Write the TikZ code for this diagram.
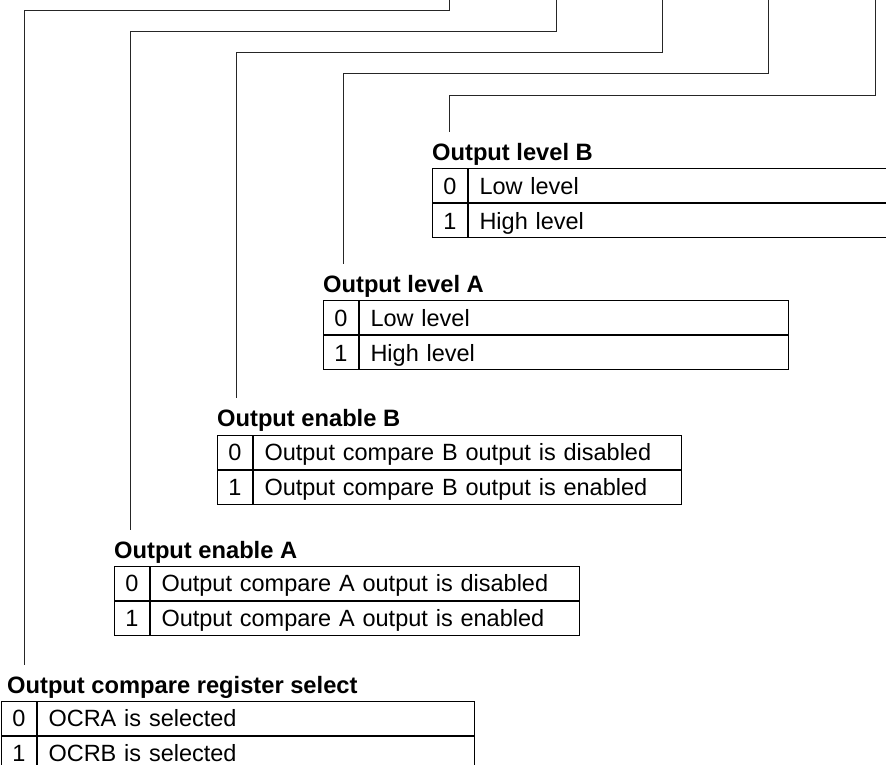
\documentclass[tikz,border=0pt]{standalone}
\usepackage{fontspec}
\setmainfont{Liberation Sans}
\usetikzlibrary{positioning}

\tikzset{
  conn/.style={draw=black!85,line width=1pt,shorten >=11pt},
  numcell/.style={draw,line width=1pt,minimum width=35pt,minimum height=34pt,inner sep=0pt,text height=16.8pt,text depth=0pt,font=\fontsize{23.5}{28}\selectfont},
  txtcell/.style={draw,line width=1pt,minimum height=34pt,inner xsep=11pt,inner ysep=0pt,align=left,text height=16.8pt,text depth=0pt,font=\fontsize{23.5}{28}\selectfont},
  ttl/.style={inner sep=0pt,font=\fontsize{23.7}{28}\selectfont\bfseries},
}

\begin{document}
\begin{tikzpicture}[x=1pt,y=-1pt]
\clip (0,0) rectangle (886,765);

% Output compare register select
\node[numcell,anchor=north west] (rs0) at (1,701) {0};
\node[txtcell,text width=415pt,right=0pt of rs0] (rst0) {OCRA is selected};
\node[numcell,below=0pt of rs0] (rs1) {1};
\node[txtcell,text width=415pt,right=0pt of rs1] (rst1) {OCRB is selected};
\node[ttl,above=8pt of rs0.north west,anchor=base west,xshift=6pt] (rsttl) {Output compare register select};

% Output enable A
\node[numcell,anchor=north west] (ea0) at (114,566) {0};
\node[txtcell,text width=407pt,right=0pt of ea0] (eat0) {Output compare A output is disabled};
\node[numcell,below=0pt of ea0] (ea1) {1};
\node[txtcell,text width=407pt,right=0pt of ea1] (eat1) {Output compare A output is enabled};
\node[ttl,above=8pt of ea0.north west,anchor=base west] (eattl) {Output enable A};

% Output enable B
\node[numcell,anchor=north west] (eb0) at (217,434.5) {0};
\node[txtcell,text width=406pt,right=0pt of eb0] (ebt0) {Output compare B output is disabled};
\node[numcell,below=0pt of eb0] (eb1) {1};
\node[txtcell,text width=406pt,right=0pt of eb1] (ebt1) {Output compare B output is enabled};
\node[ttl,above=8pt of eb0.north west,anchor=base west] (ebttl) {Output enable B};

% Output level A
\node[numcell,anchor=north west] (la0) at (323,300.3) {0};
\node[txtcell,text width=407pt,right=0pt of la0] (lat0) {Low level};
\node[numcell,below=0pt of la0] (la1) {1};
\node[txtcell,text width=407pt,right=0pt of la1] (lat1) {High level};
\node[ttl,above=8pt of la0.north west,anchor=base west] (lattl) {Output level A};

% Output level B
\node[numcell,anchor=north west] (lb0) at (432,168.3) {0};
\node[txtcell,text width=411pt,right=0pt of lb0] (lbt0) {Low level};
\node[numcell,below=0pt of lb0] (lb1) {1};
\node[txtcell,text width=411pt,right=0pt of lb1] (lbt1) {High level};
\node[ttl,above=8pt of lb0.north west,anchor=base west] (lbttl) {Output level B};

% bit lines from the top
\coordinate (b1) at (449.3,-2);
\coordinate (b2) at (556,-2);
\coordinate (b3) at (662.3,-2);
\coordinate (b4) at (768.7,-2);
\coordinate (b5) at (875,-2);
\coordinate (k1) at (24,10.7);
\coordinate (k2) at (130.3,31.7);
\coordinate (k3) at (236.7,52.7);
\coordinate (k4) at (343.3,74);
\coordinate (k5) at (449.3,95.7);

\draw[conn] (b1) |- (k1) -- (k1 |- rsttl.north);
\draw[conn] (b2) |- (k2) -- (k2 |- eattl.north);
\draw[conn] (b3) |- (k3) -- (k3 |- ebttl.north);
\draw[conn] (b4) |- (k4) -- (k4 |- lattl.north);
\draw[conn] (b5) |- (k5) -- (k5 |- lbttl.north);
\end{tikzpicture}
\end{document}
